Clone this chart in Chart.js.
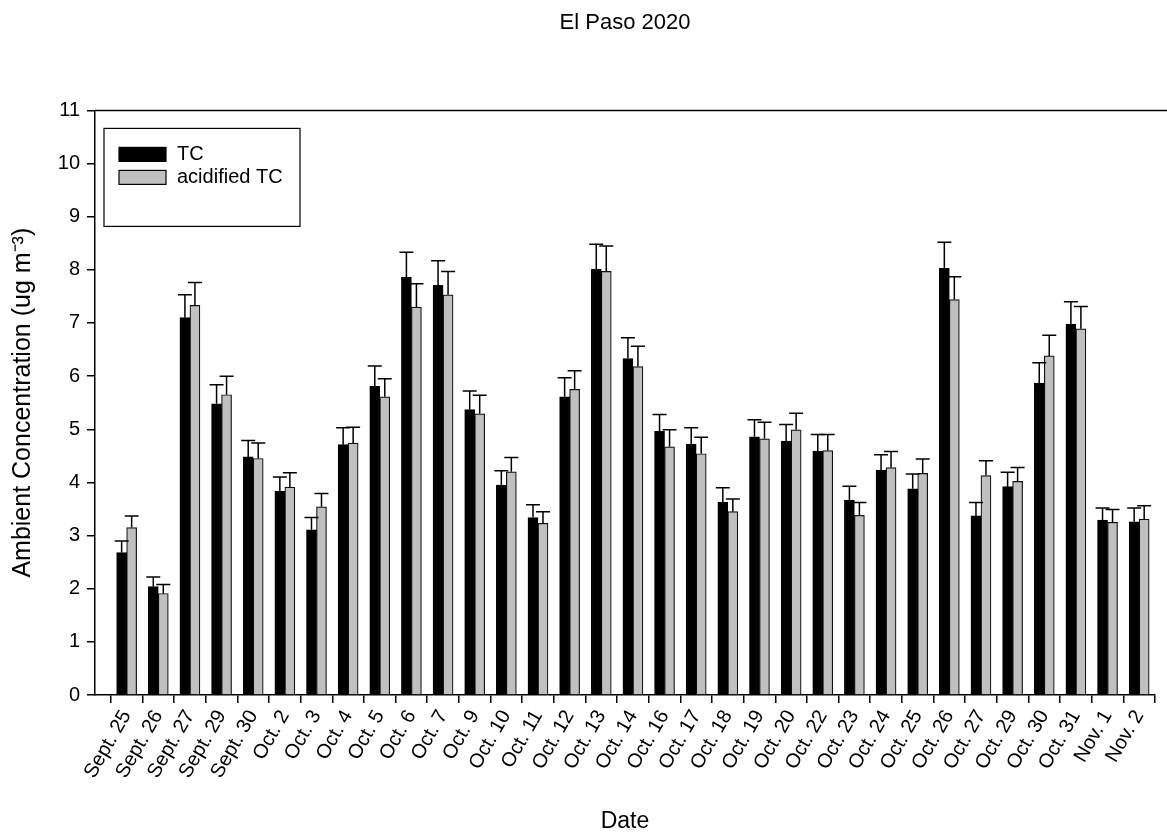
<!DOCTYPE html>
<html>
<head>
<meta charset="utf-8">
<title>El Paso 2020</title>
<script src="https://cdn.jsdelivr.net/npm/chart.js@4/dist/chart.umd.min.js"></script>
<style>
  html, body { margin: 0; padding: 0; background: #fff; }
  #wrap { width: 1167px; height: 835px; }
</style>
</head>
<body>
<div id="wrap"><canvas id="chart" width="1167" height="835"></canvas></div>
<script>
// Sampling dates
const dates = [
  'Sept. 25', 'Sept. 26', 'Sept. 27', 'Sept. 29', 'Sept. 30',
  'Oct. 2', 'Oct. 3', 'Oct. 4', 'Oct. 5', 'Oct. 6', 'Oct. 7', 'Oct. 9',
  'Oct. 10', 'Oct. 11', 'Oct. 12', 'Oct. 13', 'Oct. 14', 'Oct. 16',
  'Oct. 17', 'Oct. 18', 'Oct. 19', 'Oct. 20', 'Oct. 22', 'Oct. 23',
  'Oct. 24', 'Oct. 25', 'Oct. 26', 'Oct. 27', 'Oct. 29', 'Oct. 30',
  'Oct. 31', 'Nov. 1', 'Nov. 2'
];

// Total carbon (ug m-3) and its upper error
const tc = [
  2.68, 2.04, 7.10, 5.48, 4.48, 3.83, 3.11, 4.71, 5.81, 7.86, 7.71, 5.37,
  3.95, 3.34, 5.61, 8.01, 6.33, 4.96, 4.72, 3.63, 4.86, 4.78, 4.59, 3.67,
  4.23, 3.88, 8.03, 3.37, 3.92, 5.87, 6.98, 3.29, 3.26
];
const tcErr = [
  0.22, 0.18, 0.43, 0.36, 0.31, 0.27, 0.23, 0.32, 0.38, 0.47, 0.46, 0.35,
  0.27, 0.24, 0.36, 0.47, 0.39, 0.32, 0.31, 0.27, 0.32, 0.31, 0.31, 0.26,
  0.29, 0.28, 0.49, 0.25, 0.27, 0.38, 0.42, 0.23, 0.26
];

// Acidified total carbon (ug m-3) and its upper error
const acidTc = [
  3.15, 1.91, 7.33, 5.65, 4.45, 3.91, 3.54, 4.74, 5.61, 7.30, 7.53, 5.29,
  4.20, 3.23, 5.75, 7.97, 6.18, 4.67, 4.54, 3.45, 4.82, 4.99, 4.60, 3.38,
  4.28, 4.17, 7.44, 4.13, 4.02, 6.38, 6.89, 3.25, 3.31
];
const acidTcErr = [
  0.22, 0.17, 0.43, 0.35, 0.29, 0.27, 0.25, 0.30, 0.34, 0.44, 0.44, 0.35,
  0.27, 0.22, 0.35, 0.48, 0.38, 0.32, 0.31, 0.24, 0.31, 0.31, 0.30, 0.24,
  0.30, 0.27, 0.43, 0.28, 0.26, 0.39, 0.42, 0.24, 0.25
];

const yTicks = [0, 1, 2, 3, 4, 5, 6, 7, 8, 9, 10, 11];

const FONT = "'Liberation Sans', Arial, sans-serif";

// Upper error whiskers drawn on top of each bar
const errorBars = {
  id: 'errorBars',
  afterDatasetsDraw(chart) {
    const { ctx } = chart;
    const y = chart.scales.y;
    ctx.save();
    ctx.strokeStyle = '#000';
    ctx.lineWidth = 1.5;
    chart.data.datasets.forEach((ds, di) => {
      const meta = chart.getDatasetMeta(di);
      meta.data.forEach((bar, i) => {
        const top = y.getPixelForValue(ds.data[i].y + ds.errors[i]);
        const half = 7;
        ctx.beginPath();
        ctx.moveTo(bar.x, bar.y);
        ctx.lineTo(bar.x, top);
        ctx.moveTo(bar.x - half, top);
        ctx.lineTo(bar.x + half, top);
        ctx.stroke();
      });
    });
    ctx.restore();
  }
};

// Top frame line and boxed legend inside the plot
const frameAndLegend = {
  id: 'frameAndLegend',
  afterDraw(chart) {
    const { ctx, chartArea: a } = chart;
    ctx.save();
    ctx.strokeStyle = '#000';
    ctx.lineWidth = 1.5;
    ctx.beginPath();
    ctx.moveTo(a.left, a.top);
    ctx.lineTo(chart.width, a.top);
    ctx.stroke();

    const bx = a.left + 9, by = a.top + 18, bw = 196, bh = 98;
    ctx.lineWidth = 1.2;
    ctx.strokeRect(bx, by, bw, bh);
    ctx.font = '20px ' + FONT;
    ctx.textBaseline = 'middle';
    ctx.textAlign = 'left';
    chart.data.datasets.forEach((ds, i) => {
      const sy = by + 19 + i * 23;
      ctx.fillStyle = ds.backgroundColor;
      ctx.fillRect(bx + 15, sy, 47, 14);
      ctx.strokeStyle = '#000';
      ctx.lineWidth = 1.2;
      ctx.strokeRect(bx + 15, sy, 47, 14);
      ctx.fillStyle = '#000';
      ctx.fillText(ds.label, bx + 73, sy + 7);
    });
    ctx.restore();
  }
};

const toPoints = (arr) => arr.map((v, i) => ({ x: i + 1, y: v }));

new Chart(document.getElementById('chart'), {
  type: 'bar',
  data: {
    datasets: [
      {
        label: 'TC',
        data: toPoints(tc),
        errors: tcErr,
        backgroundColor: '#000000',
        borderColor: '#000000',
        borderWidth: 1.2,
        barThickness: 10
      },
      {
        label: 'acidified TC',
        data: toPoints(acidTc),
        errors: acidTcErr,
        backgroundColor: '#c0c0c0',
        borderColor: '#111111',
        borderWidth: 1.2,
        barThickness: 10
      }
    ]
  },
  options: {
    responsive: false,
    animation: false,
    layout: { padding: { left: 0, right: 12, top: 0, bottom: 0 } },
    plugins: {
      legend: { display: false },
      tooltip: { enabled: false },
      title: {
        display: true,
        text: 'El Paso 2020',
        fullSize: false,
        color: '#000',
        font: { family: FONT, size: 22, weight: 'normal' },
        padding: { top: 10, bottom: 74 }
      }
    },
    scales: {
      x: {
        type: 'linear',
        min: 0,
        max: dates.length + 0.5,
        offset: false,
        afterBuildTicks(scale) {
          scale.ticks = dates.map((_, i) => ({ value: i + 1 }));
        },
        afterFit(scale) { scale.height = 140; },
        ticks: {
          autoSkip: false,
          minRotation: 60,
          maxRotation: 60,
          padding: 3,
          color: '#000',
          font: { family: FONT, size: 20 },
          callback: (v) => dates[v - 1]
        },
        grid: {
          drawOnChartArea: false,
          drawTicks: true,
          tickLength: 8,
          color: '#000',
          lineWidth: 1.5
        },
        border: { display: true, color: '#000', width: 1.5 },
        title: {
          display: true,
          text: 'Date',
          color: '#000',
          font: { family: FONT, size: 23 },
          padding: { top: 0, bottom: 0 }
        }
      },
      y: {
        min: 0,
        max: 11,
        afterBuildTicks(scale) {
          scale.ticks = yTicks.map((v) => ({ value: v }));
        },
        afterFit(scale) { scale.width = 95; },
        ticks: {
          padding: 7,
          color: '#000',
          font: { family: FONT, size: 20 },
          callback: (v) => String(v)
        },
        grid: {
          drawOnChartArea: false,
          drawTicks: true,
          tickLength: 8,
          color: '#000',
          lineWidth: 1.5
        },
        border: { display: true, color: '#000', width: 1.5 },
        title: {
          display: true,
          text: 'Ambient Concentration (ug m\u207B\u00B3)',
          color: '#000',
          font: { family: FONT, size: 25 },
          padding: { top: 8, bottom: 0 }
        }
      }
    }
  },
  plugins: [errorBars, frameAndLegend]
});
</script>
</body>
</html>
